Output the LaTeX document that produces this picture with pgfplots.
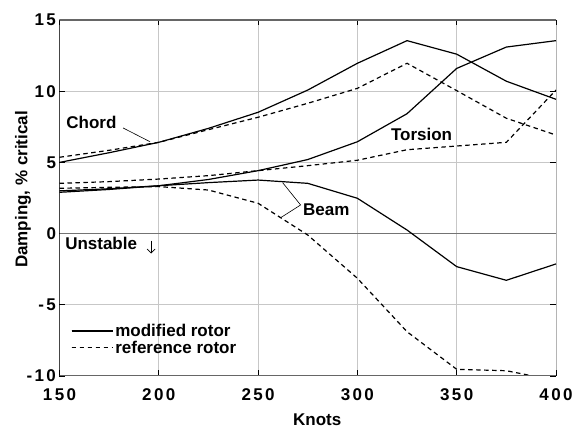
\documentclass[border=0pt]{standalone}
\usepackage{fontspec}
\setmainfont{Liberation Sans}
\newfontfamily\tickfont{Liberation Sans}[LetterSpace=14]
\usepackage{pgfplots}
\pgfplotsset{compat=1.18}
\usetikzlibrary{arrows.meta}

\newcommand\lbl{\bfseries\fontsize{17}{19}\selectfont}

\begin{document}
\begin{tikzpicture}
\useasboundingbox (-59.5pt,-55pt) rectangle (527.5pt,376pt);
\begin{axis}[
    at={(0pt,0pt)}, anchor=south west,
    scale only axis,
    width=496.5pt, height=356pt,
    xmin=150, xmax=400,
    ymin=-10, ymax=15,
    xtick={150,200,250,300,350,400},
    xticklabels={150,200,250,300,350,400},
    ytick={-10,-5,0,5,10,15},
    yticklabels={-10,-5,0,5,10,15},
    ticklabel style={font=\tickfont\bfseries\fontsize{17}{19}\selectfont},
    xticklabel style={yshift=-9pt},
    tick align=inside,
    tick pos=both,
    major tick length=5.5pt,
    every tick/.style={black, line width=0.8pt},
    grid=major,
    major grid style={black!22, line width=1pt},
    axis line style={draw=none},
    xlabel={Knots},
    ylabel={Damping, \% critical},
    label style={font=\lbl},
    xlabel style={at={(axis description cs:0.519,-0.1236)}, anchor=center},
    ylabel style={at={(axis description cs:-0.0735,0.524)}, anchor=center},
    legend style={draw=none, fill=none, at={(rel axis cs:0.023,0.152)}, anchor=north west,
        font=\lbl, row sep=-1pt, inner sep=0pt},
    legend cell align=left,
    legend image code/.code={\path (0pt,0pt) -- (41pt,0pt);\draw[#1] (0pt,0pt) -- (36pt,0pt);},
    solid line/.style={black, line width=1.2pt},
    dash line/.style={black, line width=1.2pt, dash pattern=on 4.5pt off 3.5pt},
]
% zero line
\draw[black!55, line width=1.8pt] (axis cs:150,0) -- (axis cs:400,0);

% Chord
\addplot[solid line] coordinates {
    (150,5.0) (175,5.68) (200,6.41) (225,7.39) (250,8.52) (275,10.08)
    (300,11.96) (325,13.55) (350,12.6) (375,10.7) (400,9.43)};
\addlegendentry{modified rotor}
\addplot[dash line] coordinates {
    (150,5.36) (175,5.85) (200,6.41) (225,7.3) (250,8.17) (275,9.15)
    (300,10.2) (325,11.96) (350,10.04) (375,8.1) (400,6.92)};
\addlegendentry{reference rotor}

% Torsion
\addplot[solid line, forget plot] coordinates {
    (150,3.0) (175,3.15) (200,3.36) (225,3.8) (250,4.42) (275,5.2)
    (300,6.45) (325,8.42) (350,11.6) (375,13.1) (400,13.55)};
\addplot[dash line, forget plot] coordinates {
    (150,3.53) (175,3.65) (200,3.83) (225,4.07) (250,4.42) (275,4.77)
    (300,5.15) (325,5.89) (350,6.15) (375,6.41) (400,10.08)};

% Beam
\addplot[solid line, forget plot] coordinates {
    (150,2.9) (175,3.1) (200,3.36) (225,3.58) (250,3.76) (275,3.53)
    (300,2.48) (325,0.25) (350,-2.32) (375,-3.28) (400,-2.13)};
\addplot[dash line, forget plot] coordinates {
    (150,3.18) (175,3.25) (200,3.3) (225,3.06) (250,2.13) (275,-0.1)
    (300,-3.14) (325,-6.89) (350,-9.53) (375,-9.63) (400,-10.32)};

% frame
\draw[black!60, line width=1.6pt] (rel axis cs:0,1) -- (rel axis cs:1,1);
\draw[black!60, line width=1.6pt] (rel axis cs:0,0) -- (rel axis cs:1,0);
\draw[black, line width=0.8pt] (rel axis cs:0,0) -- (rel axis cs:0,1);
\draw[black!80, line width=0.8pt] (rel axis cs:1,0) -- (rel axis cs:1,1);

% annotations
\node[font=\lbl, anchor=center] at (axis cs:166.1,7.79) {Chord};
\draw[black, line width=0.6pt] (axis cs:182.0,7.42) -- (axis cs:195.6,6.45);
\node[font=\lbl, anchor=center] at (axis cs:332.3,6.99) {Torsion};
\node[font=\lbl, anchor=west, inner sep=0pt] at (axis cs:272.6,1.66) {Beam};
\draw[black, line width=0.6pt] (axis cs:262.4,3.57) -- (axis cs:271.4,2.01) -- (axis cs:261.4,1.12);
\node[font=\lbl, anchor=west, inner sep=0pt] at (axis cs:152.8,-0.66) {Unstable};
\draw[black, line width=0.7pt, -{Straight Barb[length=4pt]}] (axis cs:196.1,-0.5) -- (axis cs:196.1,-1.4);
\end{axis}
\end{tikzpicture}
\end{document}
